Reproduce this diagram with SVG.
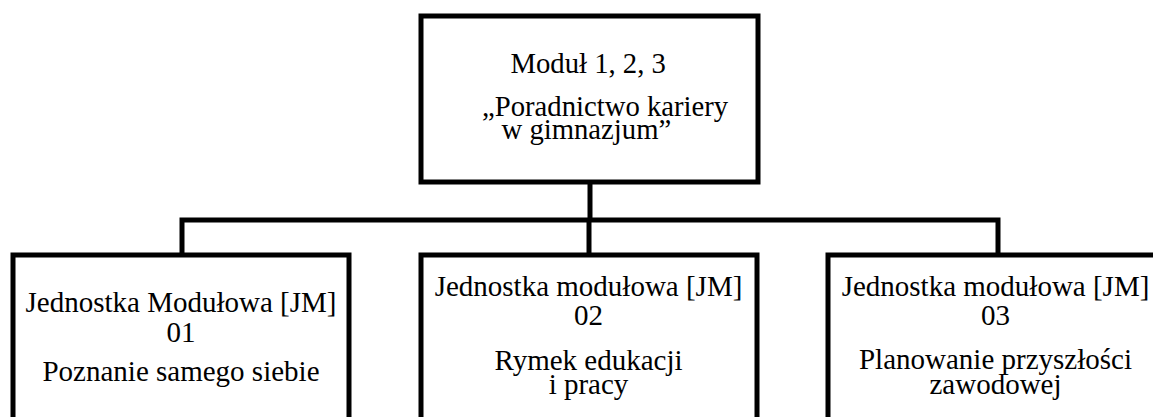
<svg xmlns="http://www.w3.org/2000/svg" width="1153" height="417" viewBox="0 0 1153 417">
<style>
.box{fill:#fff;stroke:#000;stroke-width:5}
.conn{fill:none;stroke:#000;stroke-width:5}
.t{font-family:'Liberation Serif',Tinos,'Times New Roman','DejaVu Serif',serif;font-size:29px;fill:#000}
.m{text-anchor:middle}
.s{font-size:28.7px}
</style>
<rect width="1153" height="417" fill="#fff"/>
<g id="connectors">
<path class="conn" d="M590,182 V220"/>
<path class="conn" d="M182,255 V220 H998 V255"/>
<path class="conn" d="M589,220 V255"/>
</g>
<g id="top">
<rect class="box" x="421" y="16" width="337" height="166"/>
<text class="t s" x="510.5" y="73">Moduł 1, 2, 3</text>
<text class="t s" x="482" y="115.5">„Poradnictwo kariery</text>
<text class="t s" x="501.5" y="138.5">w gimnazjum”</text>
</g>
<g id="jm01">
<rect class="box" x="13" y="255" width="336" height="200"/>
<text class="t m" x="181" y="312">Jednostka Modułowa [JM]</text>
<text class="t m" x="181" y="342">01</text>
<text class="t m" x="181" y="381">Poznanie samego siebie</text>
</g>
<g id="jm02">
<rect class="box" x="421" y="255" width="336" height="200"/>
<text class="t m" x="588.5" y="296">Jednostka modułowa [JM]</text>
<text class="t m" x="588.5" y="325">02</text>
<text class="t m" x="588.5" y="370">Rymek edukacji</text>
<text class="t m" x="588.5" y="394">i pracy</text>
</g>
<g id="jm03">
<rect class="box" x="828" y="255" width="336" height="200"/>
<text class="t m" x="995.5" y="296">Jednostka modułowa [JM]</text>
<text class="t m" x="995.5" y="325">03</text>
<text class="t m" x="995.5" y="368.5">Planowanie przyszłości</text>
<text class="t m" x="995.5" y="393.5">zawodowej</text>
</g>
</svg>
